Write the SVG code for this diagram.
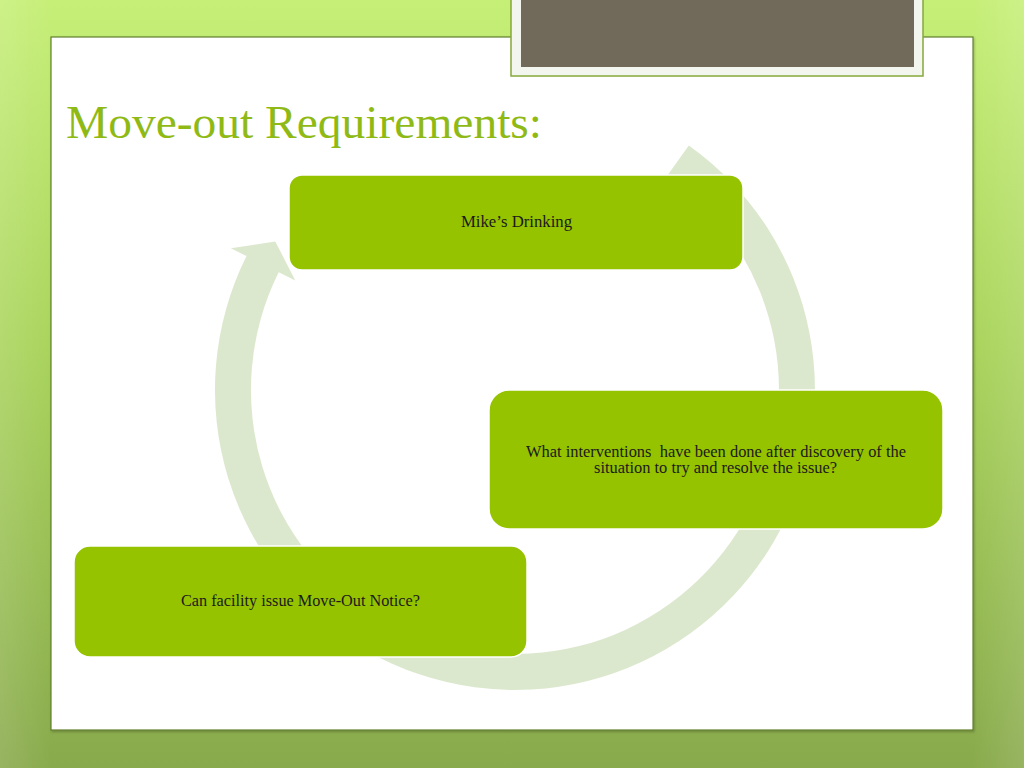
<svg xmlns="http://www.w3.org/2000/svg" width="1024" height="768" viewBox="0 0 1024 768">
  <defs>
    <linearGradient id="bg" x1="0" y1="0" x2="0" y2="1">
      <stop offset="0" stop-color="#c6ef78"/>
      <stop offset="0.45" stop-color="#a9d45c"/>
      <stop offset="1" stop-color="#89aa4c"/>
    </linearGradient>
    <linearGradient id="side" x1="0" y1="0" x2="1" y2="0">
      <stop offset="0" stop-color="#ffffff" stop-opacity="0.12"/>
      <stop offset="0.05" stop-color="#ffffff" stop-opacity="0"/>
      <stop offset="0.95" stop-color="#ffffff" stop-opacity="0"/>
      <stop offset="1" stop-color="#ffffff" stop-opacity="0.12"/>
    </linearGradient>
    <filter id="shadow" x="-5%" y="-5%" width="110%" height="110%">
      <feDropShadow dx="1" dy="1.5" stdDeviation="1" flood-color="#000" flood-opacity="0.22"/>
    </filter>
    <style>
      .node { fill: #96c300; stroke: #ffffff; stroke-width: 1.5; }
      .label { font-family: "Liberation Serif", "Times New Roman", serif; font-size: 16px; fill: #1a1a1a; text-anchor: middle; }
      .ring { fill: #dce8ce; }
    </style>
  </defs>

  <!-- background -->
  <rect x="0" y="0" width="1024" height="768" fill="url(#bg)"/>
  <rect x="0" y="0" width="1024" height="768" fill="url(#side)"/>

  <!-- slide panel -->
  <rect x="51" y="37" width="922" height="693" fill="#ffffff" stroke="#5f7f2c" stroke-width="1.2" filter="url(#shadow)"/>

  <!-- top gray tab -->
  <rect x="511" y="-4" width="412" height="80" fill="#f3f6ee" stroke="#86a83a" stroke-width="1.5"/>
  <rect x="521" y="0" width="393" height="67" fill="#716a5b"/>

  <!-- title -->
  <text x="66" y="138" font-family="Liberation Serif, 'Times New Roman', serif" font-size="46" fill="#8fba16" textLength="476" lengthAdjust="spacingAndGlyphs">Move-out Requirements:</text>

  <!-- connectors: circular arrow -->
  <g id="connectors">
    <path class="ring" d="M 688.8,145.5 A 300 300 0 1 1 246.5,256.1 L 230.9,248.3 L 275.3,241.4 L 295.3,280.5 L 278.7,272.2 A 264 264 0 1 0 667.9,174.8 Z"/>
  </g>

  <g id="node-mike">
    <rect class="node" x="289" y="175" width="454" height="95" rx="13"/>
    <text class="label" x="516.5" y="227" font-size="17" textLength="111" lengthAdjust="spacingAndGlyphs">Mike’s Drinking</text>
  </g>

  <g id="node-interventions">
    <rect class="node" x="489" y="390" width="454" height="139" rx="20"/>
    <text class="label" x="716" y="457" xml:space="preserve" textLength="380" lengthAdjust="spacingAndGlyphs">What interventions  have been done after discovery of the</text>
    <text class="label" x="715.5" y="473" textLength="243" lengthAdjust="spacingAndGlyphs">situation to try and resolve the issue?</text>
  </g>

  <g id="node-moveout">
    <rect class="node" x="74" y="546" width="453" height="111" rx="16"/>
    <text class="label" x="300.5" y="606" textLength="239" lengthAdjust="spacingAndGlyphs">Can facility issue Move-Out Notice?</text>
  </g>
</svg>
